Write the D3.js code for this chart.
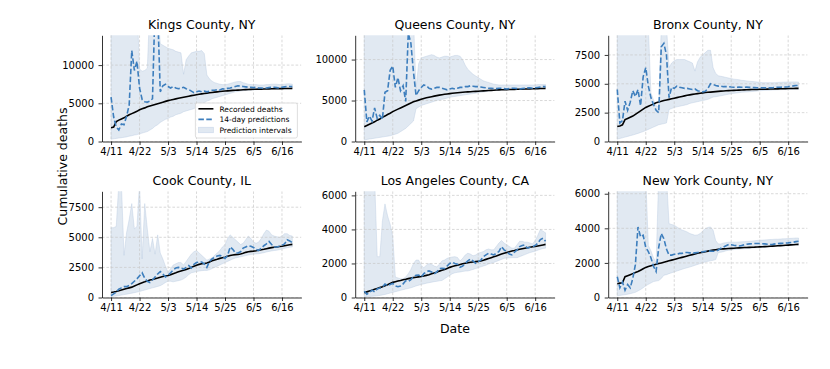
<!DOCTYPE html>
<html>
<head>
<meta charset="utf-8">
<script src="https://cdn.jsdelivr.net/npm/d3@7"></script>
<style>
  body { margin: 0; background: #fff; }
  text { font-family: "DejaVu Sans", sans-serif; }
</style>
</head>
<body>
<svg id="chart" width="830" height="369"></svg>
<script>
// one value per day, 4/11 .. 6/20
const firstDay = "2020-04-11";
const dayCount = 71;
const tickDays = ["2020-04-11", "2020-04-22", "2020-05-03", "2020-05-14", "2020-05-25", "2020-06-05", "2020-06-16"];
const tickLabels = ["4/11", "4/22", "5/3", "5/14", "5/25", "6/5", "6/16"];

const countyNames = ["Kings County, NY", "Queens County, NY", "Bronx County, NY",
  "Cook County, IL", "Los Angeles County, CA", "New York County, NY"];
const yTickSets = [[0, 5000, 10000], [0, 5000, 10000], [0, 2500, 5000, 7500],
  [0, 2500, 5000, 7500], [0, 2000, 4000, 6000], [0, 2000, 4000, 6000]];

const kingsRecorded = [1800,1900,2600,2800,2950,3100,3300,3500,3650,3800,
  3950,4150,4300,4400,4550,4650,4750,4850,4950,5050,
  5150,5250,5350,5420,5500,5580,5650,5720,5790,5860,
  5930,6000,6060,6120,6180,6230,6280,6330,6380,6420,
  6460,6500,6540,6570,6600,6630,6660,6690,6710,6730,
  6750,6770,6790,6800,6820,6830,6840,6850,6860,6870,
  6880,6890,6900,6905,6910,6920,6925,6930,6940,6945,6950];
const kingsPredicted = [5800,3200,1900,1500,2300,2200,3300,4800,11900,9300,
  10500,7000,5500,5200,5150,5300,5600,18000,17000,6500,
  7300,7500,7200,7000,7200,7000,6900,7000,7100,6900,
  6800,6600,6400,6500,6600,6500,6600,6500,6600,6700,
  6700,6800,6750,6900,6850,6950,7000,7100,7200,7300,
  7250,7200,7150,7100,7100,7050,7100,7000,7000,6950,
  7000,7050,7100,7100,7050,7000,7100,7150,7200,7200,7200];
const kingsLower = [300,350,400,450,500,550,600,700,750,850,
  900,1000,1100,1200,1300,1500,1700,2000,2200,2500,
  2700,2900,3000,3200,3300,3500,3600,3700,3900,4000,
  4100,4200,4300,4500,4700,4900,5100,5300,5400,5600,
  5700,5800,5900,6000,6100,6200,6300,6400,6500,6550,
  6600,6650,6700,6700,6750,6750,6780,6800,6800,6820,
  6830,6840,6850,6850,6860,6870,6880,6890,6900,6900,6900];
const kingsUpper = [18000,18000,18000,18000,18000,18000,18000,18000,18000,18000,
  18000,9500,9200,9300,9600,18000,18000,18000,18000,12800,
  12600,12400,12200,12100,12000,11800,11700,11600,8800,10700,
  11200,11600,11700,11800,11800,11900,11500,8700,8200,7900,
  7700,7600,7500,7450,7450,7500,7600,7700,7800,7850,
  7850,7700,7600,7500,7450,7450,7450,7400,7400,7400,
  7450,7450,7500,7500,7500,7450,7450,7500,7550,7550,7500];

const queensRecorded = [1800,1950,2100,2250,2400,2600,2750,2950,3100,3300,
  3450,3650,3800,3950,4100,4250,4400,4550,4700,4850,
  4950,5050,5150,5250,5330,5400,5470,5540,5600,5660,
  5710,5760,5800,5840,5880,5920,5950,5980,6010,6040,
  6060,6080,6100,6120,6140,6160,6180,6200,6220,6240,
  6260,6280,6300,6310,6320,6330,6340,6350,6360,6370,
  6380,6390,6400,6410,6420,6430,6440,6450,6460,6470,6480];
const queensPredicted = [6300,2400,3100,2500,4100,2800,3200,2700,6000,6200,
  8700,9200,6600,7800,6200,6800,4900,13200,12000,8500,
  5600,6200,6600,6900,6800,6500,6400,6500,6600,6600,
  6500,6400,6300,6400,6500,6400,6500,6600,6600,6700,
  6700,6800,6750,6700,6700,6650,6600,6550,6500,6500,
  6450,6450,6500,6500,6450,6400,6450,6500,6500,6450,
  6400,6450,6500,6550,6550,6500,6550,6600,6650,6700,6700];
const queensLower = [200,250,300,350,400,450,500,550,600,650,
  700,800,900,1000,1200,1400,1600,1900,2200,2500,
  4000,4200,4400,4500,4600,4700,4800,4900,5000,5100,
  5150,5200,5300,5400,5450,5500,5550,5600,5650,5700,
  5750,5800,5850,5900,5950,6000,6050,6100,6150,6200,
  6220,6240,6260,6280,6300,6300,6320,6340,6350,6360,
  6370,6380,6390,6400,6400,6410,6420,6420,6430,6440,6450];
const queensUpper = [15000,15000,15000,15000,15000,15000,15000,15000,15000,15000,
  15000,15000,15000,15000,15000,15000,15000,15000,15000,15000,
  6500,9500,10200,10300,10400,10500,10600,10500,10300,10200,
  10300,10400,10400,10300,10400,10500,10500,10400,10000,9300,
  8800,8500,8200,8000,7800,7600,7400,7300,7200,7100,
  7000,6950,6900,6900,6900,6900,6900,6900,6900,6900,
  6900,6900,6900,6900,6900,6900,6900,6950,6950,6950,6950];

const bronxRecorded = [1300,1350,1450,1900,2000,2100,2200,2350,2500,2650,
  2800,2950,3050,3150,3250,3350,3420,3480,3550,3600,
  3650,3700,3750,3800,3850,3900,3950,4000,4040,4080,
  4120,4150,4180,4210,4240,4260,4280,4300,4320,4340,
  4360,4380,4400,4410,4420,4430,4440,4450,4460,4470,
  4480,4490,4500,4505,4510,4520,4525,4530,4540,4545,
  4550,4555,4560,4570,4575,4580,4585,4590,4595,4600,4600];
const bronxPredicted = [4500,1600,1800,3500,2700,3400,4400,3900,4500,3100,
  5600,6400,4800,3800,3200,2700,2500,8200,8500,7500,
  3800,4700,4600,4800,4700,4650,4600,4600,4550,4500,
  4550,4400,4350,4300,4350,4600,5000,4950,4850,4800,
  4800,4750,4750,4750,4720,4700,4700,4720,4700,4700,
  4720,4700,4680,4670,4660,4650,4660,4650,4640,4650,
  4660,4680,4700,4700,4720,4720,4750,4800,4820,4850,4850];
const bronxLower = [200,260,320,380,440,500,560,630,700,780,
  860,950,1050,1150,1250,1350,1450,1500,1550,1600,
  2770,2850,2950,3000,3050,3100,3150,3200,3300,3350,
  3400,3450,3500,3550,3600,3650,3750,3850,3880,3920,
  3960,4000,4050,4100,4140,4170,4200,4230,4260,4280,
  4290,4310,4330,4350,4370,4390,4410,4430,4440,4450,
  4460,4470,4480,4490,4500,4500,4510,4510,4520,4520,4520];
const bronxUpper = [10000,10000,10000,10000,10000,10000,10000,10000,10000,10000,
  10000,10000,10000,4200,3600,3100,3000,10000,10000,10000,
  6400,6800,7000,7100,7100,7100,7100,7000,6900,6800,
  6100,6900,7300,7500,7700,7900,7900,6400,5900,5700,
  5650,5600,5550,5500,5450,5400,5380,5350,5300,5280,
  5250,5220,5200,5180,5150,5130,5100,5100,5100,5100,
  5100,5100,5120,5130,5140,5150,5150,5160,5160,5160,5150];

const cookRecorded = [420,450,500,560,620,680,740,800,860,950,
  1050,1150,1230,1300,1380,1450,1500,1560,1620,1690,
  1740,1780,1830,1900,1980,2050,2130,2200,2260,2320,
  2400,2500,2600,2680,2750,2800,2830,2870,2950,3050,
  3120,3180,3250,3300,3350,3420,3490,3530,3560,3580,
  3620,3680,3750,3800,3830,3850,3880,3920,3960,4000,
  4050,4100,4140,4170,4200,4230,4260,4300,4340,4380,4410];
const cookPredicted = [150,300,450,700,800,900,900,1000,1150,1350,
  1550,1800,2050,1600,1350,1250,1450,1700,1950,2150,
  1950,1700,1850,2050,2300,2450,2500,2450,2350,2500,
  2650,2450,2750,2900,2950,2950,2800,2500,3000,3200,
  3350,3450,3500,3400,3250,3500,4200,4000,3700,3700,
  3800,4100,4200,4300,4250,4150,4000,3900,4100,4300,
  4450,4650,4400,4200,4200,4250,4350,4450,4800,4700,4550];
const cookLower = [80,100,130,160,200,240,280,320,360,400,
  450,500,560,620,680,740,800,860,920,980,
  1100,1250,1350,1350,1300,1350,1400,1450,1550,1700,
  1900,2050,2100,2150,2200,2230,2250,2250,2300,2400,
  2500,2600,2700,2800,2900,3000,3100,3200,3280,3330,
  3380,3430,3480,3530,3570,3600,3620,3640,3680,3720,
  3780,3830,3870,3900,3930,3970,4020,4080,4130,4180,4200];
const cookUpper = [5800,5800,5900,9500,9500,3500,5400,6500,7800,5700,
  5900,9500,3200,7800,5700,3800,4900,3600,5200,3700,
  3200,2600,2100,2400,2700,2800,2900,2900,2700,3000,
  3300,3600,3800,3900,3700,3500,3300,3100,3200,3300,
  3500,3700,3900,4200,4400,4900,5200,5000,4800,4600,
  4400,4500,4800,5100,4900,4600,4500,4600,4900,5300,
  5600,5500,5200,5100,5050,5000,5100,5300,5300,5150,5100];

const laRecorded = [280,330,380,430,480,530,580,630,690,750,
  820,890,930,970,1000,1040,1070,1110,1140,1170,
  1190,1210,1230,1260,1300,1340,1390,1440,1490,1550,
  1600,1650,1710,1770,1820,1860,1900,1940,1980,2010,
  2040,2070,2090,2110,2120,2150,2190,2240,2290,2340,
  2390,2440,2500,2550,2600,2650,2690,2730,2760,2800,
  2830,2860,2890,2920,2950,2980,3000,3030,3060,3090,3120];
const laPredicted = [370,200,300,430,330,500,560,600,790,700,
  760,830,680,630,680,800,980,950,1050,1220,
  1300,1320,1200,1400,1520,1560,1500,1380,1500,1700,
  1720,1700,1850,2000,2070,2000,1950,1780,1850,2010,
  2150,2260,2150,2010,2100,2200,2400,2500,2600,2550,
  2500,2600,2700,2990,2800,2700,2550,2500,2660,2800,
  2990,3050,3090,2900,2950,2990,3050,3190,3400,3480,3300];
const laLower = [40,50,60,70,85,100,120,150,180,220,
  260,300,340,380,420,460,500,530,570,620,
  680,720,770,800,840,870,900,930,950,980,
  1000,1100,1200,1300,1400,1450,1480,1500,1530,1550,
  1560,1600,1650,1700,1750,1800,1850,1900,1970,2010,
  2060,2120,2180,2240,2300,2320,2330,2340,2340,2340,
  2400,2460,2520,2580,2640,2680,2720,2780,2830,2880,2900];
const laUpper = [7000,7000,7000,7000,7000,2400,2400,4500,5500,4800,
  4300,3600,1200,1150,1100,1100,1200,1400,1650,2000,
  2200,2200,1900,1750,1900,2000,1950,1850,1800,1950,
  2150,2200,2300,2350,2380,2400,2350,2150,2300,2500,
  2600,2550,2450,2500,2600,2650,2700,2800,2850,2800,
  2800,3000,3200,3350,3200,3100,3000,2900,2900,3100,
  3300,3300,3250,3250,3200,3150,3350,3650,4000,3900,3800];

const nyRecorded = [800,830,850,1200,1260,1320,1380,1440,1500,1580,
  1660,1740,1790,1840,1880,1920,1960,2000,2040,2080,
  2120,2160,2200,2240,2280,2320,2360,2400,2440,2480,
  2520,2560,2590,2620,2650,2680,2710,2740,2760,2780,
  2800,2810,2820,2830,2840,2850,2860,2870,2880,2890,
  2895,2900,2905,2910,2920,2925,2930,2940,2950,2960,
  2970,2980,2990,3000,3010,3020,3030,3040,3050,3060,3070];
const nyPredicted = [1200,560,900,420,750,560,1100,1900,4080,3500,
  3600,2900,2650,2300,1800,1500,2900,3700,3400,2800,
  2450,2450,2500,2500,2550,2550,2600,2600,2580,2560,
  2580,2600,2620,2640,2670,2680,2680,2670,2680,2750,
  2850,2920,2990,3060,3050,3020,3000,2980,3000,3050,
  3080,3100,3110,3120,3120,3120,3110,3100,3080,3060,
  3070,3100,3120,3130,3140,3150,3160,3180,3200,3230,3250];
const nyLower = [100,120,140,160,190,220,260,300,380,460,
  560,680,760,840,920,950,980,1100,1290,1320,
  1380,1430,1480,1530,1580,1630,1680,1720,1760,1810,
  1860,1910,1960,2000,2060,2090,2120,2150,2190,2600,
  2620,2650,2700,2730,2750,2770,2790,2800,2810,2820,
  2830,2840,2850,2860,2870,2880,2890,2900,2920,2930,
  2940,2950,2960,2970,2980,2990,3000,3010,3020,3030,3030];
const nyUpper = [7000,7000,7000,7000,7000,7000,7000,7000,7000,7000,
  7000,7000,3000,2700,2300,2000,7000,7000,7000,7000,
  4270,4220,4170,4080,3980,3900,3850,3790,3700,3650,
  3600,3620,3690,3850,3980,4050,4080,3900,3300,3100,
  3100,3150,3170,3200,3200,3200,3200,3210,3220,3230,
  3240,3250,3260,3280,3300,3310,3320,3330,3340,3350,
  3360,3370,3370,3380,3390,3400,3410,3420,3430,3440,3440];

const counties = [
  { recorded: kingsRecorded, predicted: kingsPredicted, lower: kingsLower, upper: kingsUpper },
  { recorded: queensRecorded, predicted: queensPredicted, lower: queensLower, upper: queensUpper },
  { recorded: bronxRecorded, predicted: bronxPredicted, lower: bronxLower, upper: bronxUpper },
  { recorded: cookRecorded, predicted: cookPredicted, lower: cookLower, upper: cookUpper },
  { recorded: laRecorded, predicted: laPredicted, lower: laLower, upper: laUpper },
  { recorded: nyRecorded, predicted: nyPredicted, lower: nyLower, upper: nyUpper }
].map((c, i) => ({ ...c, name: countyNames[i], yTicks: yTickSets[i] }));

const parseDay = d3.timeParse("%Y-%m-%d");
const start = parseDay(firstDay);
const days = d3.range(dayCount).map(i => d3.timeDay.offset(start, i));
const ticks = tickDays.map(parseDay);

const svg = d3.select("#chart");
const colLeft = [102, 355.2, 608.2];
const rowTop = [35.3, 191.3];
const panelW = 199.4;
const panelH = 106.2;

const blue = "#3d7ebd";
const bandColor = "#b0c4de";

const x = d3.scaleTime()
  .domain([d3.timeHour.offset(days[0], -84), d3.timeHour.offset(days[dayCount - 1], 84)])
  .range([0, panelW]);

counties.forEach((c, i) => {
  const left = colLeft[i % 3];
  const top = rowTop[Math.floor(i / 3)];
  const g = svg.append("g").attr("transform", `translate(${left},${top})`);

  const y = d3.scaleLinear()
    .domain([0, 2 * d3.max(c.recorded)])
    .range([panelH, 0]);

  const clipId = "clip" + i;
  g.append("clipPath").attr("id", clipId)
    .append("rect").attr("width", panelW).attr("height", panelH);
  const plot = g.append("g").attr("clip-path", `url(#${clipId})`);

  const rows = days.map((d, k) => ({
    date: d, rec: c.recorded[k], pred: c.predicted[k], lo: c.lower[k], hi: c.upper[k]
  }));

  plot.append("path")
    .datum(rows)
    .attr("fill", bandColor)
    .attr("fill-opacity", 0.38)
    .attr("stroke", bandColor)
    .attr("stroke-opacity", 0.45)
    .attr("stroke-width", 0.8)
    .attr("d", d3.area().x(d => x(d.date)).y0(d => y(d.lo)).y1(d => y(d.hi)));

  // grid
  plot.selectAll(".gx").data(ticks).join("line")
    .attr("x1", d => x(d)).attr("x2", d => x(d))
    .attr("y1", 0).attr("y2", panelH)
    .attr("stroke", "#c8c8c8").attr("stroke-width", 0.7)
    .attr("stroke-dasharray", "2.6,1.8");
  plot.selectAll(".gy").data(c.yTicks).join("line")
    .attr("x1", 0).attr("x2", panelW)
    .attr("y1", d => y(d)).attr("y2", d => y(d))
    .attr("stroke", "#c8c8c8").attr("stroke-width", 0.7)
    .attr("stroke-dasharray", "2.6,1.8");

  plot.append("path")
    .datum(rows)
    .attr("fill", "none")
    .attr("stroke", "#000")
    .attr("stroke-width", 1.6)
    .attr("d", d3.line().x(d => x(d.date)).y(d => y(d.rec)));

  plot.append("path")
    .datum(rows)
    .attr("fill", "none")
    .attr("stroke", blue)
    .attr("stroke-width", 1.6)
    .attr("stroke-dasharray", "5.5,2.4")
    .attr("d", d3.line().x(d => x(d.date)).y(d => y(d.pred)));

  const xAxis = g.append("g")
    .attr("transform", `translate(0,${panelH})`)
    .call(d3.axisBottom(x).tickValues(ticks).tickSize(3.5).tickSizeOuter(0).tickPadding(2.5)
      .tickFormat((d, k) => tickLabels[k]));
  const yAxis = g.append("g")
    .call(d3.axisLeft(y).tickValues(c.yTicks).tickSize(3.5).tickSizeOuter(0).tickPadding(4.5)
      .tickFormat(d3.format("d")));
  [xAxis, yAxis].forEach(a => {
    a.attr("font-family", "DejaVu Sans").attr("font-size", 10);
    a.selectAll("path, line").attr("stroke", "#000").attr("stroke-width", 0.8);
    a.selectAll("text").attr("fill", "#000");
  });

  g.append("text")
    .attr("x", panelW / 2).attr("y", -6.3)
    .attr("text-anchor", "middle")
    .attr("font-size", 12.5)
    .text(c.name);

  if (i === 0) {
    const lg = g.append("g").attr("transform", `translate(${panelW - 106},${panelH - 38.5})`);
    lg.append("rect")
      .attr("width", 102).attr("height", 35).attr("rx", 2)
      .attr("fill", "#fff").attr("fill-opacity", 0.85)
      .attr("stroke", "#d5d5d5").attr("stroke-width", 0.8);
    const items = ["Recorded deaths", "14-day predictions", "Prediction intervals"];
    items.forEach((t, k) => {
      const cy = 5.8 + k * 10.6;
      if (k === 0) {
        lg.append("line").attr("x1", 3).attr("x2", 18).attr("y1", cy).attr("y2", cy)
          .attr("stroke", "#000").attr("stroke-width", 1.6);
      } else if (k === 1) {
        lg.append("line").attr("x1", 3).attr("x2", 18).attr("y1", cy).attr("y2", cy)
          .attr("stroke", blue).attr("stroke-width", 1.6).attr("stroke-dasharray", "5.5,2.4");
      } else {
        lg.append("rect").attr("x", 3).attr("y", cy - 2.7).attr("width", 15).attr("height", 5.4)
          .attr("fill", bandColor).attr("fill-opacity", 0.38)
          .attr("stroke", bandColor).attr("stroke-opacity", 0.45).attr("stroke-width", 0.8);
      }
      lg.append("text").attr("x", 24).attr("y", cy + 2.7)
        .attr("font-size", 7.5).text(t);
    });
  }
});

svg.append("text")
  .attr("transform", "translate(67,166.5) rotate(-90)")
  .attr("text-anchor", "middle")
  .attr("font-size", 12.5)
  .text("Cumulative deaths");

svg.append("text")
  .attr("x", colLeft[1] + panelW / 2).attr("y", 333)
  .attr("text-anchor", "middle")
  .attr("font-size", 12.5)
  .text("Date");
</script>
</body>
</html>
